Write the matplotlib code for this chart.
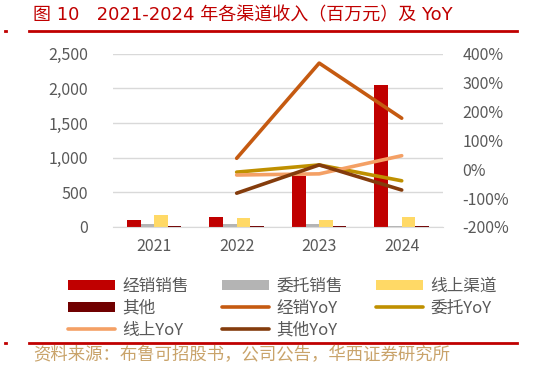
import numpy as np
import matplotlib
matplotlib.use("Agg")
import matplotlib.pyplot as plt
from matplotlib.ticker import FuncFormatter

plt.rcParams["font.family"] = ["Liberation Sans Narrow", "Noto Sans CJK SC", "DejaVu Sans"]

# data (百万元, YoY in %)
years = ["2021", "2022", "2023", "2024"]
jingxiao = [100, 150, 740, 2050]
weituo = [40, 40, 40, 10]
xianshang = [170, 130, 100, 145]
qita = [20, 20, 20, 20]

yoy_years = ["2022", "2023", "2024"]
jingxiao_yoy = [38, 368, 177]
weituo_yoy = [-10, 15, -40]
xianshang_yoy = [-20, -16, 47]
qita_yoy = [-83, 15, -72]

title = "图 10   2021-2024 年各渠道收入（百万元）及 YoY"
source = "资料来源：布鲁可招股书，公司公告，华西证券研究所"

cjk = ["Noto Sans CJK SC", "DejaVu Sans"]
tick_c = "#595959"

fig = plt.figure(figsize=(5.35, 3.69), dpi=100)
ax = fig.add_axes([0.211, 0.385, 0.617, 0.469])
ax2 = ax.twinx()

x = np.arange(len(years))
w = 0.165
b1 = ax.bar(x - 1.5 * w, jingxiao, w, color="#C00000", label="经销销售")
b2 = ax.bar(x - 0.5 * w, weituo, w, color="#B4B4B4", label="委托销售")
b3 = ax.bar(x + 0.5 * w, xianshang, w, color="#FFD966", label="线上渠道")
b4 = ax.bar(x + 1.5 * w, qita, w, color="#700000", label="其他")

xi = [years.index(y) for y in yoy_years]
kw = dict(lw=2.6, solid_capstyle="round")
l1, = ax2.plot(xi, jingxiao_yoy, color="#C55A11", label="经销YoY", **kw)
l2, = ax2.plot(xi, weituo_yoy, color="#BF9000", label="委托YoY", **kw)
l3, = ax2.plot(xi, xianshang_yoy, color="#F4A065", label="线上YoY", **kw)
l4, = ax2.plot(xi, qita_yoy, color="#843C0C", label="其他YoY", **kw)

ax.set_xlim(-0.5, 3.5)
ax.set_ylim(0, 2500)
ax.set_yticks(np.arange(0, 2501, 500))
ax.yaxis.set_major_formatter(FuncFormatter(lambda v, p: f"{v:,.0f}"))
ax2.set_ylim(-200, 400)
ax2.set_yticks(np.arange(-200, 401, 100))
ax2.yaxis.set_major_formatter(FuncFormatter(lambda v, p: f"{v:.0f}%"))
ax.set_xticks(x)
ax.set_xticklabels(years)

ax.grid(axis="y", color="#D9D9D9", lw=1)
ax.set_axisbelow(True)
for a in (ax, ax2):
    for s in a.spines.values():
        s.set_visible(False)
    a.tick_params(length=0, labelsize=11.5, labelcolor=tick_c)
ax.spines["bottom"].set_visible(True)
ax.spines["bottom"].set_color("#D9D9D9")
ax.tick_params(axis="y", pad=18)
ax.tick_params(axis="x", pad=8)
ax2.tick_params(axis="y", pad=14)

handles = [b1, b4, l3, b2, l1, l4, b3, l2]
leg = fig.legend(handles, [h.get_label() for h in handles], ncol=3,
                 loc="upper left", bbox_to_anchor=(0.112, 0.27), frameon=False,
                 prop={"family": cjk, "size": 12}, handlelength=2.8,
                 handleheight=0.55, handletextpad=0.45, columnspacing=2.0,
                 labelspacing=0.3, borderpad=0)
for t in leg.get_texts():
    t.set_color(tick_c)

fig.text(0.062, 0.958, title, color="#C00000", fontsize=13,
         family=["DejaVu Sans", "Noto Sans CJK SC"], va="center", ha="left")
fig.add_artist(plt.Line2D([0.055, 0.967], [0.915, 0.915], color="#C00000", lw=2))
fig.add_artist(plt.Line2D([0.009, 0.012], [0.915, 0.915], color="#C00000", lw=2))
fig.add_artist(plt.Line2D([0.055, 0.967], [0.071, 0.071], color="#C00000", lw=2))
fig.add_artist(plt.Line2D([0.009, 0.012], [0.071, 0.071], color="#C00000", lw=2))
fig.text(0.062, 0.037, source, color="#C9A36A", fontsize=12.5, family=cjk,
         va="center", ha="left")

fig.savefig("out.png", dpi=100)
